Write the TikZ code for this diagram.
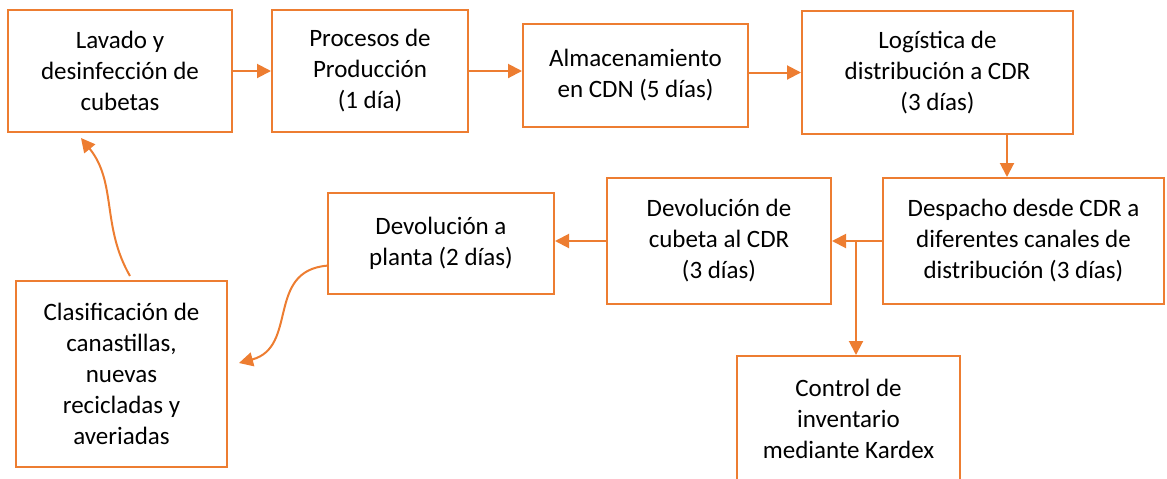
\documentclass[tikz,border=0pt]{standalone}
\usepackage{fontspec}
\setmainfont{Carlito}
\usetikzlibrary{arrows.meta,calc}
\definecolor{naranja}{HTML}{ED7D31}

\begin{document}
\begin{tikzpicture}[x=0.5pt,y=-0.5pt,>={Triangle[length=7pt,width=7pt]},
        caja/.style={draw=naranja,line width=1pt,align=center,inner sep=2pt,
          font=\fontsize{12.5}{15.5}\selectfont},
        flecha/.style={->,draw=naranja,line width=1pt}]

  \useasboundingbox (0,0) rectangle (1167,478);
  \clip (0,0) rectangle (1167,478);

  % fila de arriba
  \node[caja,minimum width=112pt,minimum height=61pt] (lavado) at (120,71)
    {Lavado y\\desinfección de\\cubetas};
  \node[caja,minimum width=98pt,minimum height=61pt] (procesos) at (370,71)
    {Procesos de\\Producción\\(1 día)};
  \node[caja,minimum width=112.5pt,minimum height=51.5pt] (almacen) at (635.5,75.5)
    {Almacenamiento\\en CDN (5 días)};
  \node[caja,minimum width=135.5pt,minimum height=61.5pt] (logistica) at (937.5,72.5)
    {Logística de\\distribución a CDR\\(3 días)};

  % fila del medio
  \node[caja,minimum width=140.5pt,minimum height=63pt] (despacho) at (1023.5,241)
    {Despacho desde CDR a\\diferentes canales de\\distribución (3 días)};
  \node[caja,minimum width=112pt,minimum height=63pt] (devcubeta) at (719,241)
    {Devolución de\\cubeta al CDR\\(3 días)};
  \node[caja,minimum width=113pt,minimum height=50.5pt] (devplanta) at (441,243.5)
    {Devolución a\\planta (2 días)};

  % abajo
  \node[caja,minimum width=105.5pt,minimum height=93pt] (clasif) at (121.5,374)
    {Clasificación de\\canastillas,\\nuevas\\recicladas y\\averiadas};
  \node[caja,minimum width=111.5pt,minimum height=63pt] (control) at (848.5,419)
    {Control de\\inventario\\mediante Kardex};

  \draw[flecha] (lavado.east) -- (procesos.west);
  \draw[flecha] (procesos.east) -- (procesos.east -| almacen.west);
  \draw[flecha] (almacen.east |- logistica.west) -- (logistica.west);
  \draw[flecha] ($(logistica.south)+(69.5,0)$) coordinate (bajada)
    -- (bajada |- despacho.north);
  \draw[flecha] (despacho.west) -- (devcubeta.east);
  \draw[flecha] ($(devcubeta.east)+(24,0)$) coordinate (rama)
    -- (rama |- control.north);
  \draw[flecha] (devcubeta.west) -- (devcubeta.west -| devplanta.east);
  \draw[flecha] (devplanta.191) to[out=185,in=15,looseness=1.2]
    ($(clasif.east)+(11,-11)$);
  \draw[flecha] ($(clasif.north)+(8.5,-4)$) to[out=120,in=-51]
    ($(lavado.south)+(-39,5)$);

\end{tikzpicture}
\end{document}
